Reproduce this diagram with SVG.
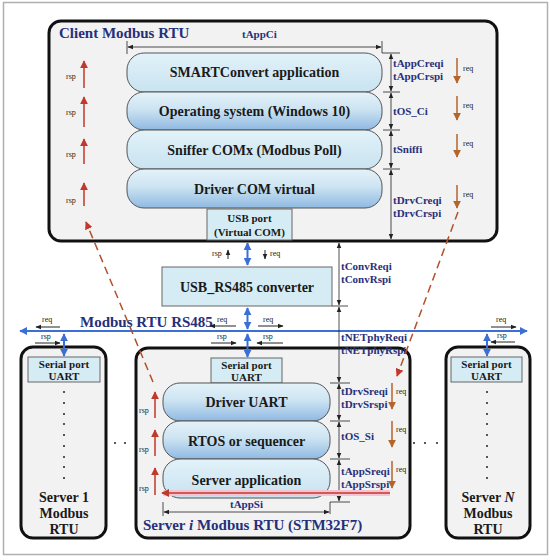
<svg xmlns="http://www.w3.org/2000/svg" width="550" height="560" viewBox="0 0 550 560">
<defs>
<style>
.frame{fill:#fff;stroke:#b0b0b0;stroke-width:1.5}
.big{fill:#f2f2f2;stroke:#111;stroke-width:3}
.pillL{fill:url(#gLight);stroke:#555;stroke-width:1}
.pillB{fill:url(#gBlue);stroke:#555;stroke-width:1}
.port{fill:#d6ecf5;stroke:#666;stroke-width:1}
.title{font-family:"Liberation Serif",serif;font-weight:bold;font-size:15px;fill:#25307a}
.layer{font-family:"Liberation Serif",serif;font-weight:bold;font-size:14px;fill:#1a1a1a;text-anchor:middle}
.srv{font-family:"Liberation Serif",serif;font-weight:bold;font-size:14px;fill:#1a1a1a;text-anchor:middle}
.box{font-family:"Liberation Serif",serif;font-weight:bold;font-size:11px;fill:#1a1a1a;text-anchor:middle}
.tl{font-family:"Liberation Serif",serif;font-weight:bold;font-size:11px;fill:#28307a}
.sm{font-family:"Liberation Serif",serif;font-size:8px;fill:#222}
.dim{stroke:#222;stroke-width:0.8;fill:none}
.dimA{stroke:#222;stroke-width:0.8;fill:none;marker-start:url(#aK);marker-end:url(#aK)}
.bus{stroke:#3b6fd6;stroke-width:2;fill:none;marker-start:url(#aB);marker-end:url(#aB)}
.rsp{stroke:#c0392b;stroke-width:1.5;fill:none;marker-end:url(#aR)}
.req{stroke:#b5652a;stroke-width:1.5;fill:none;marker-end:url(#aO)}
.small{stroke:#222;stroke-width:1;fill:none;marker-end:url(#aK)}
.dash{stroke:#b5502a;stroke-width:1.5;fill:none;stroke-dasharray:8 5;marker-end:url(#aR)}
.dot{fill:#222}
</style>
<linearGradient id="gLight" x1="0" y1="0" x2="0" y2="1"><stop offset="0" stop-color="#e2f2f9"/><stop offset="1" stop-color="#c8e3f0"/></linearGradient>
<linearGradient id="gBlue" x1="0" y1="0" x2="0" y2="1"><stop offset="0" stop-color="#e4f2f9"/><stop offset="0.45" stop-color="#cde4f2"/><stop offset="1" stop-color="#8fb9e2"/></linearGradient>
<marker id="aB" viewBox="0 0 10 10" refX="9" refY="5" markerWidth="8" markerHeight="8" markerUnits="userSpaceOnUse" orient="auto-start-reverse"><path d="M0,0 L10,5 L0,10 z" fill="#3b6fd6"/></marker>
<marker id="aK" viewBox="0 0 10 10" refX="9" refY="5" markerWidth="6" markerHeight="6" markerUnits="userSpaceOnUse" orient="auto-start-reverse"><path d="M0,1 L10,5 L0,9 z" fill="#222"/></marker>
<marker id="aR" viewBox="0 0 10 10" refX="9" refY="5" markerWidth="8" markerHeight="8" markerUnits="userSpaceOnUse" orient="auto-start-reverse"><path d="M0,0 L10,5 L0,10 z" fill="#c0392b"/></marker>
<marker id="aO" viewBox="0 0 10 10" refX="9" refY="5" markerWidth="8" markerHeight="8" markerUnits="userSpaceOnUse" orient="auto-start-reverse"><path d="M0,0 L10,5 L0,10 z" fill="#b5652a"/></marker>
</defs>

<rect class="frame" x="3.5" y="2.5" width="544" height="552"/>

<g id="client">
<rect class="big" x="49" y="21" width="448" height="220" rx="12"/>
<text class="title" x="59" y="38" font-size="16">Client Modbus RTU</text>
</g>

<g id="smartconvert"><rect class="pillL" x="127" y="53" width="255" height="39" rx="17"/><text class="layer" x="254.5" y="77">SMARTConvert application</text></g>
<g id="os"><rect class="pillB" x="127" y="92" width="255" height="38" rx="17"/><text class="layer" x="254.5" y="116">Operating system (Windows 10)</text></g>
<g id="sniffer"><rect class="pillL" x="127" y="130" width="255" height="39" rx="17"/><text class="layer" x="254.5" y="155">Sniffer COMx (Modbus Poll)</text></g>
<g id="drivercom"><rect class="pillB" x="127" y="169" width="255" height="39" rx="17"/><text class="layer" x="254.5" y="194">Driver COM virtual</text></g>

<g id="usbport"><rect class="port" x="207" y="209" width="85" height="31"/><text class="box" x="249.5" y="222">USB port</text><text class="box" x="249.5" y="236">(Virtual COM)</text></g>

<g id="converter"><rect class="port" x="162" y="267" width="170" height="39"/><text class="layer" x="247" y="292" font-size="15">USB_RS485 converter</text></g>

<g id="server1">
<rect class="big" x="21" y="347" width="85" height="191" rx="12"/>
<rect class="port" x="28" y="357" width="72" height="25"/>
<text class="box" x="64" y="368">Serial port</text><text class="box" x="64" y="380">UART</text>
<circle class="dot" cx="64" cy="392" r="1"/><circle class="dot" cx="64" cy="403" r="1"/><circle class="dot" cx="64" cy="414" r="1"/><circle class="dot" cx="64" cy="424" r="1"/><circle class="dot" cx="64" cy="435" r="1"/><circle class="dot" cx="64" cy="446" r="1"/><circle class="dot" cx="64" cy="457" r="1"/><circle class="dot" cx="64" cy="467" r="1"/><circle class="dot" cx="64" cy="478" r="1"/>
<text class="srv" x="64" y="502">Server 1</text><text class="srv" x="64" y="518">Modbus</text><text class="srv" x="64" y="534">RTU</text>
</g>

<g id="serveri">
<rect class="big" x="136" y="348" width="274" height="190" rx="12"/>
<rect class="port" x="211" y="358" width="71" height="25"/>
<text class="box" x="246.5" y="369">Serial port</text><text class="box" x="246.5" y="381">UART</text>
<text class="title" x="143" y="530">Server <tspan font-style="italic">i</tspan> Modbus RTU (STM32F7)</text>
</g>
<g id="driveruart"><rect class="pillB" x="163" y="383" width="167" height="38" rx="17"/><text class="layer" x="246.5" y="407">Driver UART</text></g>
<g id="rtos"><rect class="pillB" x="163" y="421" width="167" height="38" rx="17"/><text class="layer" x="246.5" y="446">RTOS or sequencer</text></g>
<g id="serverapp"><rect class="pillL" x="163" y="459" width="167" height="39" rx="17"/><text class="layer" x="246.5" y="485">Server application</text></g>

<g id="serverN">
<rect class="big" x="446" y="347" width="84" height="191" rx="12"/>
<rect class="port" x="451" y="357" width="71" height="25"/>
<text class="box" x="486.5" y="368">Serial port</text><text class="box" x="486.5" y="380">UART</text>
<circle class="dot" cx="487" cy="392" r="1"/><circle class="dot" cx="487" cy="403" r="1"/><circle class="dot" cx="487" cy="414" r="1"/><circle class="dot" cx="487" cy="424" r="1"/><circle class="dot" cx="487" cy="435" r="1"/><circle class="dot" cx="487" cy="446" r="1"/><circle class="dot" cx="487" cy="457" r="1"/><circle class="dot" cx="487" cy="467" r="1"/><circle class="dot" cx="487" cy="478" r="1"/>
<text class="srv" x="488" y="502">Server <tspan font-style="italic">N</tspan></text><text class="srv" x="488" y="518">Modbus</text><text class="srv" x="488" y="534">RTU</text>
</g>

<g id="between-dots">
<circle class="dot" cx="115" cy="443" r="1"/><circle class="dot" cx="125" cy="443" r="1"/>
<circle class="dot" cx="414" cy="443" r="1"/><circle class="dot" cx="425" cy="443" r="1"/><circle class="dot" cx="437" cy="443" r="1"/>
</g>

<g id="connectors">
<!-- bus -->
<line class="bus" x1="20" y1="331" x2="527" y2="331" stroke-width="2.5"/>
<text class="title" x="80" y="327">Modbus RTU RS485</text>
<line class="bus" x1="247.5" y1="243" x2="247.5" y2="265" stroke-width="1.5"/>
<line class="bus" x1="247.5" y1="308" x2="247.5" y2="329" stroke-width="1.5"/>
<line class="bus" x1="247.5" y1="334" x2="247.5" y2="357" stroke-width="1.5"/>
<line class="bus" x1="64" y1="334" x2="64" y2="356" stroke-width="1.5"/>
<line class="bus" x1="487" y1="334" x2="487" y2="356" stroke-width="1.5"/>

<!-- usb req/rsp -->
<text class="sm" x="212" y="256">rsp</text><line class="small" x1="228" y1="259" x2="228" y2="250"/>
<line class="small" x1="265" y1="250" x2="265" y2="259"/><text class="sm" x="270" y="256">req</text>

<!-- bus small arrows -->
<text class="sm" x="42" y="322">req</text><line class="small" x1="60" y1="327" x2="36" y2="327"/>
<text class="sm" x="41" y="339">rsp</text><line class="small" x1="35" y1="343" x2="60" y2="343"/>
<text class="sm" x="217" y="322">req</text><line class="small" x1="236" y1="326" x2="210" y2="326"/>
<text class="sm" x="217" y="339">rsp</text><line class="small" x1="211" y1="343" x2="236" y2="343"/>
<text class="sm" x="263" y="322">req</text><line class="small" x1="258" y1="326" x2="283" y2="326"/>
<text class="sm" x="263" y="339">rsp</text><line class="small" x1="283" y1="343" x2="257" y2="343"/>
<text class="sm" x="496" y="322">req</text><line class="small" x1="491" y1="327" x2="516" y2="327"/>
<text class="sm" x="497" y="338">rsp</text><line class="small" x1="515" y1="342" x2="491" y2="342"/>

<!-- client dims -->
<text class="tl" x="242" y="38">tAppCi</text>
<line class="dimA" x1="128" y1="47" x2="381" y2="47"/>
<line class="dim" x1="127" y1="41" x2="127" y2="54"/>
<line class="dim" x1="382" y1="41" x2="382" y2="53"/>
<line class="dim" x1="382" y1="53" x2="400" y2="53"/>
<line class="dim" x1="383" y1="92" x2="400" y2="92"/>
<line class="dim" x1="383" y1="130" x2="400" y2="130"/>
<line class="dim" x1="383" y1="169" x2="400" y2="169"/>
<line class="dimA" x1="391" y1="54" x2="391" y2="91"/>
<line class="dimA" x1="391" y1="93" x2="391" y2="129"/>
<line class="dimA" x1="391" y1="131" x2="391" y2="168"/>
<line class="dimA" x1="391" y1="170" x2="391" y2="239"/>
<text class="tl" x="393" y="67">tAppCreqi</text><text class="tl" x="393" y="80">tAppCrspi</text>
<text class="tl" x="393" y="115">tOS_Ci</text>
<text class="tl" x="393" y="153">tSniffi</text>
<text class="tl" x="393" y="204">tDrvCreqi</text><text class="tl" x="393" y="217">tDrvCrspi</text>

<!-- converter dims -->
<line class="dimA" x1="339" y1="243" x2="339" y2="305"/>
<line class="dim" x1="332" y1="306" x2="348" y2="306"/>
<line class="dimA" x1="339" y1="307" x2="339" y2="382"/>
<text class="tl" x="341" y="270">tConvReqi</text><text class="tl" x="341" y="283">tConvRspi</text>
<text class="tl" x="341" y="341">tNETphyReqi</text><text class="tl" x="341" y="354">tNETphyRspi</text>

<!-- server i dims -->
<line class="dim" x1="330" y1="383" x2="350" y2="383"/>
<line class="dim" x1="330" y1="421" x2="350" y2="421"/>
<line class="dim" x1="330" y1="459" x2="350" y2="459"/>
<line class="dim" x1="330" y1="502" x2="350" y2="502"/>
<line class="dimA" x1="339" y1="384" x2="339" y2="420"/>
<line class="dimA" x1="339" y1="422" x2="339" y2="458"/>
<line class="dimA" x1="339" y1="460" x2="339" y2="501"/>
<text class="tl" x="341" y="395">tDrvSreqi</text><text class="tl" x="341" y="408">tDrvSrspi</text>
<text class="tl" x="341" y="440">tOS_Si</text>
<text class="tl" x="341" y="475">tAppSreqi</text><text class="tl" x="341" y="488">tAppSrspi</text>
<line class="dimA" x1="164" y1="512" x2="329" y2="512"/>
<line class="dim" x1="163" y1="502" x2="163" y2="516"/>
<line class="dim" x1="330" y1="502" x2="330" y2="514"/>
<text class="tl" x="246.5" y="508" text-anchor="middle">tAppSi</text>

<!-- client rsp/req -->
<line class="rsp" x1="84" y1="88" x2="84" y2="61" stroke-width="3"/><text class="sm" x="66" y="79">rsp</text>
<line class="rsp" x1="84" y1="127" x2="84" y2="97"/><text class="sm" x="66" y="115">rsp</text>
<line class="rsp" x1="84" y1="164" x2="84" y2="139"/><text class="sm" x="66" y="157">rsp</text>
<line class="rsp" x1="84" y1="206" x2="84" y2="183"/><text class="sm" x="66" y="203">rsp</text>
<line class="req" x1="457" y1="58" x2="457" y2="83" stroke-width="3"/><text class="sm" x="463" y="71">req</text>
<line class="req" x1="457" y1="96" x2="457" y2="120"/><text class="sm" x="463" y="108">req</text>
<line class="req" x1="457" y1="134" x2="457" y2="157"/><text class="sm" x="463" y="146">req</text>
<line class="req" x1="457" y1="185" x2="457" y2="208"/><text class="sm" x="463" y="197">req</text>

<!-- server i rsp/req -->
<line class="rsp" x1="155" y1="418" x2="155" y2="392"/><text class="sm" x="139" y="413">rsp</text>
<line class="rsp" x1="155" y1="456" x2="155" y2="430"/><text class="sm" x="139" y="452">rsp</text>
<line class="rsp" x1="155" y1="495" x2="155" y2="468"/><text class="sm" x="139" y="491">rsp</text>
<line class="req" x1="392" y1="383" x2="392" y2="409"/><text class="sm" x="396" y="394">req</text>
<line class="req" x1="392" y1="421" x2="392" y2="447"/><text class="sm" x="396" y="432">req</text>
<line class="req" x1="392" y1="461" x2="392" y2="488"/><text class="sm" x="396" y="472">req</text>
<line x1="390" y1="493" x2="163" y2="493" stroke="#f6c3d3" stroke-width="6"/>
<line class="rsp" x1="390" y1="493" x2="162" y2="493" stroke="#b5461e" stroke-width="2.5"/>

<!-- dashed paths -->
<line class="dash" x1="458" y1="212" x2="397" y2="376"/>
<line class="dash" x1="153" y1="382" x2="86" y2="222"/>
</g>
</svg>
